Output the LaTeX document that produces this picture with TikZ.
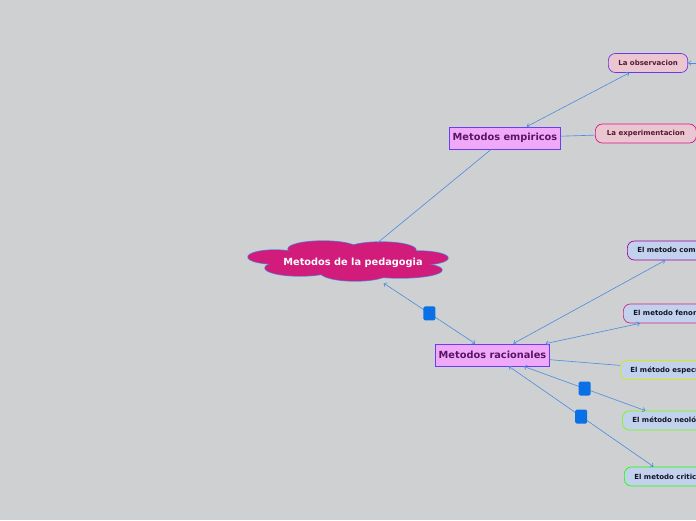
\documentclass[tikz,border=0pt]{standalone}
\usepackage{fontspec}
\setmainfont{DejaVu Sans}
\usetikzlibrary{arrows.meta}
\definecolor{bgcolor}{HTML}{CFD0D2}
\definecolor{linkcolor}{HTML}{4A8BE0}
\definecolor{rootfill}{HTML}{D11C7C}
\definecolor{mainfill}{HTML}{F0A9F9}
\definecolor{maindraw}{HTML}{6B3CF2}
\definecolor{maintext}{HTML}{5A1466}
\definecolor{pinkfill}{HTML}{E9C6D0}
\definecolor{pinktext}{HTML}{5A1830}
\definecolor{bluefill}{HTML}{C2D2EC}
\definecolor{bluetext}{HTML}{141428}
\definecolor{knotcolor}{HTML}{0A70E6}

\begin{document}
\begin{tikzpicture}[
    x=1pt,y=-1pt,
    root/.style={minimum width=200pt,minimum height=40pt,inner sep=0pt,
      text=white,font=\fontsize{9.8}{11}\selectfont\bfseries},
    mainbox/.style={draw=maindraw,fill=mainfill,text=maintext,minimum height=22pt,inner xsep=3pt,
      line width=0.8pt,font=\fontsize{9.8}{11}\selectfont\bfseries},
    leaf/.style={draw,rounded corners=7pt,minimum height=19pt,inner xsep=10pt,anchor=west,
      line width=0.7pt,font=\fontsize{7}{8}\selectfont\bfseries},
    pinkleaf/.style={leaf,fill=pinkfill,text=pinktext},
    blueleaf/.style={leaf,fill=bluefill,text=bluetext},
    link/.style={linkcolor,line width=0.6pt},
    arr/.style={link,{Straight Barb[length=2.5pt,width=4.5pt]}-{Straight Barb[length=2.5pt,width=4.5pt]}},
    knot/.style={fill=knotcolor,rounded corners=1.5pt,minimum width=12pt,minimum height=14pt,inner sep=0pt},
  ]
    \fill[bgcolor] (0,0) rectangle (696,520);
    \useasboundingbox (0,0) rectangle (696,520);
    \clip (0,0) rectangle (696,520);

    % cloud: outlines first, then the fill over them
    \def\puffs{275/257/27/7, 323/249/35/8, 381/250/35/8, 418/258/30/7,
      300/268/35/8, 400/270/42/8, 355/272/35/9, 350/261/80/12}
    \foreach \cx/\cy/\rx/\ry in \puffs
      \draw[linkcolor,line width=1.3pt] (\cx,\cy) ellipse [x radius=\rx,y radius=\ry];
    \foreach \cx/\cy/\rx/\ry in \puffs
      \fill[rootfill] (\cx,\cy) ellipse [x radius=\rx,y radius=\ry];

    \node[root] (root) at (353,263) {Metodos de la pedagogia};
    \node[mainbox] (emp) at (505,138) {Metodos empiricos};
    \node[mainbox] (rac) at (492.5,355) {Metodos racionales};

    \node[pinkleaf,draw=maindraw!90!violet] (obs) at (608,63) {La observacion};
    \node[pinkleaf,draw=magenta!85!violet,minimum width=101pt] (expe) at (595,133.5) {La experimentacion};
    \coordinate (offobs) at (720,63);

    \node[blueleaf,draw=violet!75!magenta] (comp) at (627,250.5) {El metodo comparativo};
    \node[blueleaf,draw=magenta!60!violet] (fenom) at (623,313.5) {El metodo fenomenologico};
    \node[blueleaf,draw=yellow!85!green] (espec) at (620,370) {El método especulativo};
    \node[blueleaf,draw=green!55!yellow] (neol) at (622,420.5) {El método neológico};
    \node[blueleaf,draw=green!85!lime] (crit) at (624,476.5) {El metodo critico};

    \draw[link] (root) -- (emp);
    \draw[arr] (emp) -- (obs);
    \draw[link] (emp) -- (expe);
    \draw[link,-{Straight Barb[length=2.5pt,width=4.5pt]}] (offobs) -- (obs.east);

    \draw[arr] (root) -- node[knot] (k1) {} (rac);
    \draw[arr] (rac) -- (comp);
    \draw[arr] (rac) -- (fenom);
    \draw[link] (rac) -- (espec);
    \draw[arr] (rac) -- node[knot] (k2) {} (neol);
    \draw[arr] (rac) -- node[knot] (k3) {} (crit);
  \end{tikzpicture}
\end{document}
